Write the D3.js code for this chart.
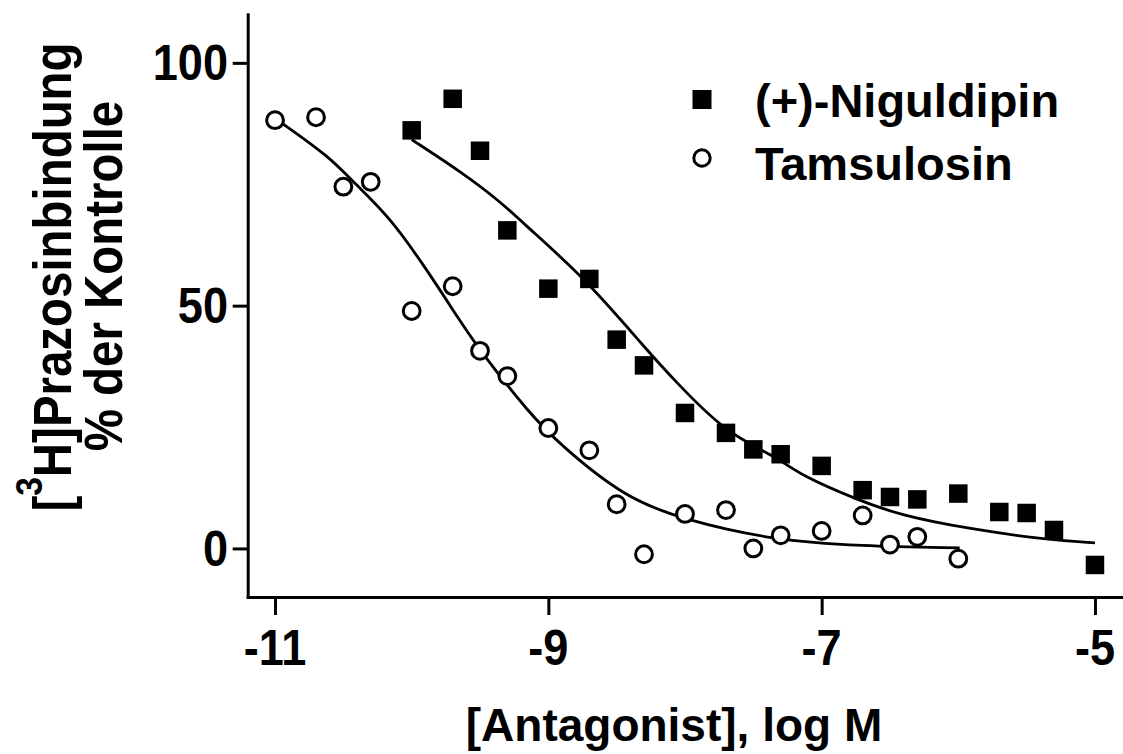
<!DOCTYPE html>
<html>
<head>
<meta charset="utf-8">
<script src="https://cdn.jsdelivr.net/npm/d3@7"></script>
<style>
  html, body { margin: 0; padding: 0; background: #fff; }
  svg { display: block; }
  text { font-family: "Liberation Sans", Arial, Helvetica, sans-serif; font-weight: bold; fill: #000; }
</style>
</head>
<body>
<svg id="chart" width="1123" height="754"></svg>
<script>
// ---- data ----
const nigX = [-10, -9.7, -9.5, -9.3, -9, -8.7, -8.5, -8.3, -8, -7.7, -7.5, -7.3, -7, -6.7, -6.5, -6.3, -6, -5.7, -5.5, -5.3, -5];
const nigY = [86.1, 92.6, 81.9, 65.5, 53.5, 55.5, 43.0, 37.7, 27.9, 23.8, 20.4, 19.4, 17.0, 12.0, 10.6, 10.1, 11.3, 7.5, 7.3, 3.8, -3.4];

const tamX = [-11, -10.7, -10.5, -10.3, -10, -9.7, -9.5, -9.3, -9, -8.7, -8.5, -8.3, -8, -7.7, -7.5, -7.3, -7, -6.7, -6.5, -6.3, -6];
const tamY = [88.2, 88.8, 74.5, 75.5, 48.9, 54.0, 40.7, 35.5, 24.8, 20.2, 9.1, -1.2, 7.1, 7.9, 0.0, 2.7, 3.6, 6.8, 0.8, 2.4, -2.1];

// fitted curves
const nigCurveX = [-10.0, -9.62, -9.35, -9.13, -8.72, -8.28, -8.09, -7.70, -7.33, -7.16, -6.72, -6.43, -5.94, -5.33, -5.0];
const nigCurveY = [84.2, 77.2, 71.4, 65.6, 55.3, 40.9, 35.0, 23.7, 18.9, 15.1, 9.8, 6.9, 4.1, 1.7, 1.15];

const tamCurveX = [-10.94, -10.60, -10.43, -10.16, -9.87, -9.65, -9.50, -9.13, -8.91, -8.45, -8.00, -7.35, -6.72, -5.99];
const tamCurveY = [87.4, 80.6, 75.5, 68.3, 56.6, 47.0, 40.7, 27.5, 21.3, 10.6, 5.8, 1.7, 0.5, 0.1];

const xTicks = [-11, -9, -7, -5];
const yTicks = [0, 50, 100];
const seriesNames = ["(+)-Niguldipin", "Tamsulosin"];
const xTitle = "[Antagonist], log M";
const yTitle1a = "[", yTitleSup = "3", yTitle1b = "H]Prazosinbindung";
const yTitle2 = "% der Kontrolle";

// ---- layout ----
const svg = d3.select("#chart");
const x = d3.scaleLinear().domain([-11.2, -4.8]).range([247.7, 1122.3]);
const y = d3.scaleLinear().domain([-10, 110]).range([597, 14.3]);

const AXW = 3;
const gx = svg.append("g").attr("transform", `translate(0,${y(-10)})`)
  .call(d3.axisBottom(x).tickValues(xTicks).tickSize(18).tickSizeOuter(0).tickFormat(""));
const gy = svg.append("g").attr("transform", `translate(${x(-11.2)},0)`)
  .call(d3.axisLeft(y).tickValues(yTicks).tickSize(15).tickSizeOuter(0).tickFormat(""));
[gx, gy].forEach(g => {
  g.select(".domain").attr("stroke", "#000").attr("stroke-width", AXW).attr("stroke-linecap", "square");
  g.selectAll(".tick line").attr("stroke", "#000").attr("stroke-width", AXW);
});

// tick labels (slightly tall, condensed glyphs as in the reference)
svg.selectAll(".xtl").data(xTicks).join("text")
  .attr("class", "xtl")
  .attr("transform", d => `translate(${x(d)},665) scale(0.94,1.06)`)
  .attr("text-anchor", "middle").attr("font-size", 48)
  .text(d => d);
svg.selectAll(".ytl").data(yTicks).join("text")
  .attr("class", "ytl")
  .attr("transform", d => `translate(228,${y(d) + 17.5}) scale(0.94,1.06)`)
  .attr("text-anchor", "end").attr("font-size", 48)
  .text(d => d);

// axis titles
svg.append("text").attr("x", 674).attr("y", 741).attr("text-anchor", "middle")
  .attr("font-size", 46).text(xTitle);

const t1 = svg.append("text").attr("transform", "translate(71,277) rotate(-90) scale(0.93,1.05)")
  .attr("text-anchor", "middle").attr("font-size", 51);
t1.append("tspan").text(yTitle1a);
t1.append("tspan").attr("font-size", 36).attr("dy", -28).text(yTitleSup);
t1.append("tspan").attr("dy", 28).text(yTitle1b);
svg.append("text").attr("transform", "translate(122,276) rotate(-90) scale(0.93,1.05)")
  .attr("text-anchor", "middle").attr("font-size", 51).text(yTitle2);

// curves
const line = d3.line().x(d => x(d[0])).y(d => y(d[1])).curve(d3.curveBasis);
svg.append("path").datum(d3.zip(nigCurveX, nigCurveY)).attr("d", line)
  .attr("fill", "none").attr("stroke", "#000").attr("stroke-width", 2.8);
svg.append("path").datum(d3.zip(tamCurveX, tamCurveY)).attr("d", line)
  .attr("fill", "none").attr("stroke", "#000").attr("stroke-width", 2.8);

// points
const SQ = 18.5;
svg.selectAll(".sq").data(d3.zip(nigX, nigY)).join("rect")
  .attr("class", "sq")
  .attr("x", d => x(d[0]) - SQ/2).attr("y", d => y(d[1]) - SQ/2)
  .attr("width", SQ).attr("height", SQ).attr("fill", "#000");
svg.selectAll(".ci").data(d3.zip(tamX, tamY)).join("circle")
  .attr("class", "ci")
  .attr("cx", d => x(d[0])).attr("cy", d => y(d[1])).attr("r", 8.4)
  .attr("fill", "#fff").attr("stroke", "#000").attr("stroke-width", 3);

// legend
const lg = svg.append("g");
lg.append("rect").attr("x", 702 - 9.5).attr("y", 99.5 - 9.5).attr("width", 19).attr("height", 19).attr("fill", "#000");
lg.append("circle").attr("cx", 702).attr("cy", 158).attr("r", 8.2).attr("fill", "#fff").attr("stroke", "#000").attr("stroke-width", 3);
lg.selectAll(".lt").data(seriesNames).join("text").attr("class", "lt")
  .attr("x", 755).attr("y", (d, i) => i === 0 ? 117 : 180)
  .attr("font-size", 47).text(d => d);
</script>
</body>
</html>
